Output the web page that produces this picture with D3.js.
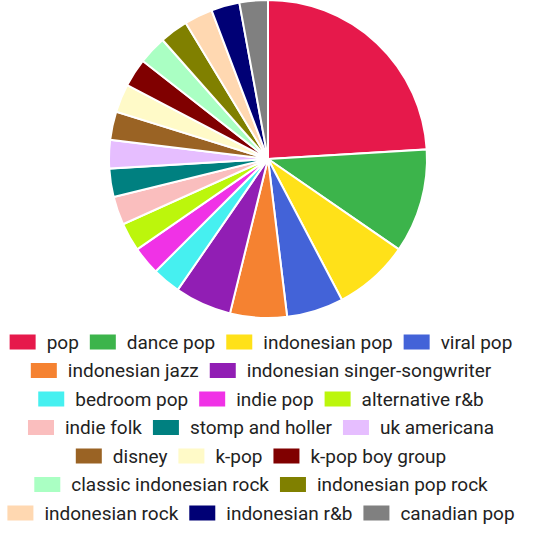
<!DOCTYPE html>
<html>
<head>
<meta charset="utf-8">
<script src="https://cdn.jsdelivr.net/npm/d3@7"></script>
<style>
  html, body { margin: 0; padding: 0; background: #fff; }
  svg { display: block; }
</style>
</head>
<body>
<div id="chart"></div>
<script>
// genre counts, in the order they are drawn (clockwise from 12 o'clock)
const genres = ["pop", "dance pop", "indonesian pop", "viral pop", "indonesian jazz",
  "indonesian singer-songwriter", "bedroom pop", "indie pop", "alternative r&b",
  "indie folk", "stomp and holler", "uk americana", "disney", "k-pop", "k-pop boy group",
  "classic indonesian rock", "indonesian pop rock", "indonesian rock", "indonesian r&b",
  "canadian pop"];
const counts = [25, 11, 8, 6, 6, 6, 3, 3, 3, 3, 3, 3, 3, 3, 3, 3, 3, 3, 3, 3];
const colors = ["#e6194b", "#3cb44b", "#ffe119", "#4363d8", "#f58231", "#911eb4",
  "#46f0f0", "#f032e6", "#bcf60c", "#fabebe", "#008080", "#e6beff", "#9a6324",
  "#fffac8", "#800000", "#aaffc3", "#808000", "#ffd8b1", "#000075", "#808080"];

const width = 537, height = 550;
const cx = 268, cy = 159, radius = 159;

const svg = d3.select("#chart").append("svg")
  .attr("width", width)
  .attr("height", height);

const color = d3.scaleOrdinal().domain(genres).range(colors);

const pie = d3.pie().sort(null).value(d => d.count);
const arc = d3.arc().innerRadius(0).outerRadius(radius);

const data = genres.map((g, i) => ({genre: g, count: counts[i]}));

svg.append("g")
  .attr("transform", `translate(${cx},${cy})`)
  .selectAll("path")
  .data(pie(data))
  .enter().append("path")
  .attr("d", arc)
  .attr("fill", d => color(d.data.genre))
  .attr("stroke", "#fff")
  .attr("stroke-width", 2);

// legend, wrapped into centred rows
const boxW = 26, boxH = 15, gap = 11, rowH = 28.5, maxW = 520;
const legendCx = 261, firstRowY = 342;

const legend = svg.append("g")
  .attr("font-family", "Roboto, sans-serif")
  .attr("font-size", 19)
  .attr("fill", "#222");

// measure labels
const items = genres.map(g => {
  const t = legend.append("text").text(g);
  const w = t.node().getComputedTextLength();
  t.remove();
  return {genre: g, w: boxW + gap + w};
});

const rows = [];
let cur = [], curW = 0;
items.forEach(it => {
  const add = cur.length ? gap + it.w : it.w;
  if (cur.length && curW + add > maxW) {
    rows.push({items: cur, w: curW});
    cur = [it]; curW = it.w;
  } else {
    cur.push(it); curW += add;
  }
});
rows.push({items: cur, w: curW});

rows.forEach((row, r) => {
  let x = legendCx - row.w / 2;
  const y = firstRowY + r * rowH;
  row.items.forEach(it => {
    const g = legend.append("g").attr("transform", `translate(${x},${y})`);
    g.append("rect")
      .attr("x", 0).attr("y", -boxH / 2)
      .attr("width", boxW).attr("height", boxH)
      .attr("fill", color(it.genre));
    g.append("text")
      .attr("x", boxW + gap)
      .attr("dy", "0.35em")
      .text(it.genre);
    x += it.w + gap;
  });
});
</script>
</body>
</html>
